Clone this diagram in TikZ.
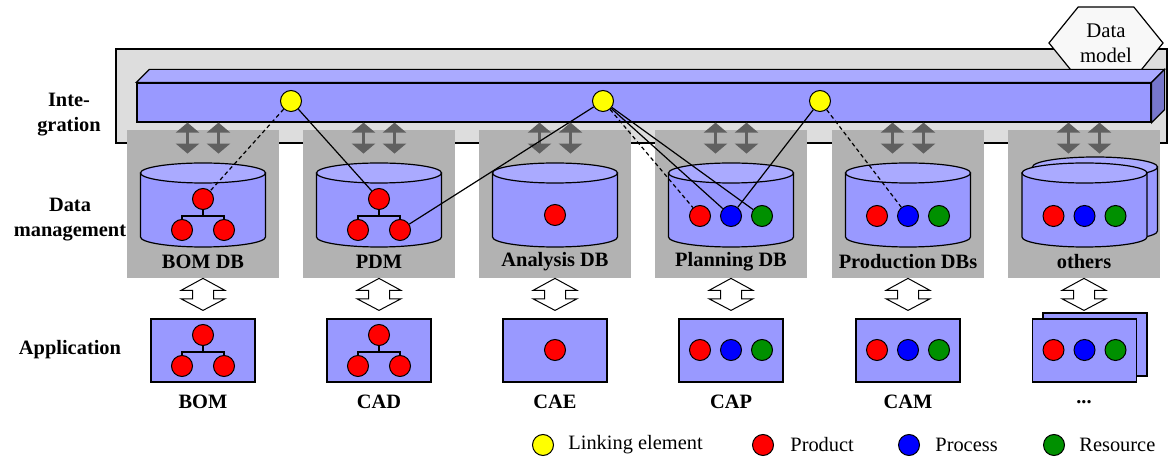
\documentclass[tikz,border=0pt]{standalone}
\usepackage{fontspec}
\setmainfont{Liberation Serif}
\usetikzlibrary{shapes.symbols,arrows.meta,positioning}

\definecolor{dbblue}{HTML}{9999FF}
\definecolor{dbtop}{HTML}{AAAAFF}
\definecolor{dbside}{HTML}{7777CC}
\definecolor{framegray}{HTML}{DDDDDD}
\definecolor{boxgray}{HTML}{B2B2B2}
\definecolor{arrowgray}{HTML}{606060}
\definecolor{hexfill}{HTML}{F8F8F8}
\definecolor{linkyellow}{HTML}{FFFF00}
\definecolor{prodred}{HTML}{FF0000}
\definecolor{procblue}{HTML}{0000FF}
\definecolor{resgreen}{HTML}{009000}

\tikzset{
  layerlabel/.style={font=\fontsize{10.2}{12.5}\selectfont\bfseries, align=center, inner sep=0pt},
  dbname/.style={font=\fontsize{10.2}{12.5}\selectfont\bfseries, inner sep=0pt},
  graybox/.style={fill=boxgray, minimum width=76pt, minimum height=74pt, inner sep=0pt},
  dbdrum/.pic={
    \draw[fill=dbblue, line width=0.6pt] (-31.25pt,16pt) -- (-31.25pt,-16pt)
      arc[start angle=180, end angle=360, x radius=31.25pt, y radius=5pt] -- (31.25pt,16pt) -- cycle;
    \draw[fill=dbtop, line width=0.6pt] (0,16pt) ellipse [x radius=31.25pt, y radius=5pt];},
  appbox/.style={draw, fill=dbblue, line width=0.6pt, minimum width=52pt, minimum height=31.5pt, inner sep=0pt},
  dot/.style={circle, draw, line width=0.5pt, minimum size=10.5pt, inner sep=0pt},
  link/.style={dot, fill=linkyellow},
  prod/.style={dot, fill=prodred},
  proc/.style={dot, fill=procblue},
  res/.style={dot, fill=resgreen},
  tree/.style={line width=0.6pt},
  wirelink/.style={line width=0.6pt},
  dashlink/.style={line width=0.6pt, dash pattern=on 2pt off 1.5pt},
  syncarrow/.style={arrowgray, line width=1.5pt, {Triangle[width=11.5pt,length=5pt]}-{Triangle[width=11.5pt,length=5pt]}},
  xarrow/.pic={\draw[fill=white, line width=0.5pt] (0,0) -- (11pt,-6pt) -- (5.25pt,-6pt) -- (5.25pt,-10.2pt)
    -- (11pt,-10.2pt) -- (0,-16pt) -- (-11pt,-10.2pt) -- (-5.25pt,-10.2pt) -- (-5.25pt,-6pt) -- (-11pt,-6pt) -- cycle;},
  legendtext/.style={font=\fontsize{10.2}{12}\selectfont, anchor=west, inner sep=0pt}
}

\begin{document}
\begin{tikzpicture}[x=0.5pt, y=-0.5pt]
\useasboundingbox (0,0) rectangle (1168,459);

% integration layer
\draw[fill=framegray, line width=0.7pt] (116,49) rectangle (1167,143);
\node[signal, signal to=east and west, signal pointer angle=102, draw, fill=hexfill, line width=0.6pt,
  minimum width=57pt, minimum height=36pt, inner sep=0pt, align=center,
  font=\fontsize{10.4}{12.5}\selectfont] (datamodel) at (1106,43) {Data\\model};
\node[draw, fill=dbblue, line width=0.6pt, minimum width=507pt, minimum height=19.5pt, inner sep=0pt] (bus) at (644,102.5) {};
\draw[fill=dbtop, line width=0.6pt] (bus.north west) -- ++(6.5pt,6.5pt) -- ([shift={(6.5pt,6.5pt)}]bus.north east) -- (bus.north east) -- cycle;
\draw[fill=dbside, line width=0.6pt] (bus.north east) -- ++(6.5pt,6.5pt) -- ([shift={(6.5pt,6.5pt)}]bus.south east) -- (bus.south east) -- cycle;

% layer names
\node[layerlabel] (lint) at (69,114.5) {Inte-\\gration};
\node[layerlabel] (ldata) at (70,219.5) {Data\\management};
\node[layerlabel] (lapp) at (70,350) {Application};

% data management boxes
\node[graybox] (bomdb) at (203,204) {};
\node[graybox] (pdmdb) at (379,204) {};
\node[graybox] (anadb) at (555,204) {};
\node[graybox] (plandb) at (731,204) {};
\node[graybox] (proddb) at (908,204) {};
\node[graybox] (othdb) at (1084,204) {};

\node[dbname] at (203,262) {BOM DB};
\node[dbname] at (379,262) {PDM};
\node[dbname] at (555,262) {Analysis DB};
\node[dbname] at (731,262) {Planning DB};
\node[dbname] at (908,262) {Production DBs};
\node[dbname] at (1084,262) {others};

% exchange with the bus
\draw[syncarrow] ([xshift=-7.75pt]bomdb.north |- bus.south) -- ++(0,-15.5pt);
\draw[syncarrow] ([xshift=7.75pt]bomdb.north |- bus.south) -- ++(0,-15.5pt);
\draw[syncarrow] ([xshift=-7.75pt]pdmdb.north |- bus.south) -- ++(0,-15.5pt);
\draw[syncarrow] ([xshift=7.75pt]pdmdb.north |- bus.south) -- ++(0,-15.5pt);
\draw[syncarrow] ([xshift=-7.75pt]anadb.north |- bus.south) -- ++(0,-15.5pt);
\draw[syncarrow] ([xshift=7.75pt]anadb.north |- bus.south) -- ++(0,-15.5pt);
\draw[syncarrow] ([xshift=-7.75pt]plandb.north |- bus.south) -- ++(0,-15.5pt);
\draw[syncarrow] ([xshift=7.75pt]plandb.north |- bus.south) -- ++(0,-15.5pt);
\draw[syncarrow] ([xshift=-7.75pt]proddb.north |- bus.south) -- ++(0,-15.5pt);
\draw[syncarrow] ([xshift=7.75pt]proddb.north |- bus.south) -- ++(0,-15.5pt);
\draw[syncarrow] ([xshift=-7.75pt]othdb.north |- bus.south) -- ++(0,-15.5pt);
\draw[syncarrow] ([xshift=7.75pt]othdb.north |- bus.south) -- ++(0,-15.5pt);

% databases
\pic at (203,205) {dbdrum};
\pic at (379,205) {dbdrum};
\pic at (555,205) {dbdrum};
\pic at (731,205) {dbdrum};
\pic at (908,205) {dbdrum};
\pic at (1095,199) {dbdrum};
\pic at (1084.5,205) {dbdrum};

\node[prod] (bomtop) at (203,199) {};
\node[prod] (bomleft) at (182,230) {};
\node[prod] (bomright) at (224,230) {};
\draw[tree] (bomtop.south) -- ++(0,-3pt) -| (bomleft.north);
\draw[tree] (bomtop.south) -- ++(0,-3pt) -| (bomright.north);

\node[prod] (pdmtop) at (379,199) {};
\node[prod] (pdmleft) at (358,230) {};
\node[prod] (pdmright) at (400,230) {};
\draw[tree] (pdmtop.south) -- ++(0,-3pt) -| (pdmleft.north);
\draw[tree] (pdmtop.south) -- ++(0,-3pt) -| (pdmright.north);

\node[prod] (anaprod) at (555,215) {};

\node[prod] (planprod) at (700,216) {};
\node[proc] (planproc) at (731,216) {};
\node[res] (planres) at (762,216) {};

\node[prod] (prodprod) at (877,216) {};
\node[proc] (prodproc) at (908,216) {};
\node[res] (prodres) at (939,216) {};

\node[prod] (othprod) at (1053.5,216) {};
\node[proc] (othproc) at (1084.5,216) {};
\node[res] (othres) at (1115.5,216) {};

% data management <-> application
\pic at (bomdb.south) {xarrow};
\pic at (pdmdb.south) {xarrow};
\pic at (anadb.south) {xarrow};
\pic at (plandb.south) {xarrow};
\pic at (proddb.south) {xarrow};
\pic at (othdb.south) {xarrow};

% applications
\node[appbox] (bomapp) at (203,350.5) {};
\node[appbox] (cadapp) at (379,350.5) {};
\node[appbox] (caeapp) at (555,350.5) {};
\node[appbox] (capapp) at (731,350.5) {};
\node[appbox] (camapp) at (908,350.5) {};
\node[appbox] (othappback) at (1095,344.5) {};
\node[appbox] (othapp) at (1084.5,350.5) {};

\node[prod] (bomatop) at (203,335) {};
\node[prod] (bomaleft) at (182,366) {};
\node[prod] (bomaright) at (224,366) {};
\draw[tree] (bomatop.south) -- ++(0,-3pt) -| (bomaleft.north);
\draw[tree] (bomatop.south) -- ++(0,-3pt) -| (bomaright.north);

\node[prod] (cadtop) at (379,335) {};
\node[prod] (cadleft) at (358,366) {};
\node[prod] (cadright) at (400,366) {};
\draw[tree] (cadtop.south) -- ++(0,-3pt) -| (cadleft.north);
\draw[tree] (cadtop.south) -- ++(0,-3pt) -| (cadright.north);

\node[prod] (caeprod) at (555,350) {};

\node[prod] (capprod) at (700,350) {};
\node[proc] (capproc) at (731,350) {};
\node[res] (capres) at (762,350) {};

\node[prod] (camprod) at (877,350) {};
\node[proc] (camproc) at (908,350) {};
\node[res] (camres) at (939,350) {};

\node[prod] (othaprod) at (1053.5,350) {};
\node[proc] (othaproc) at (1084.5,350) {};
\node[res] (otharess) at (1115.5,350) {};

\node[dbname] at (203,402) {BOM};
\node[dbname] at (379,402) {CAD};
\node[dbname] at (555,402) {CAE};
\node[dbname] at (731,402) {CAP};
\node[dbname] at (908,402) {CAM};
\node[dbname] at (1084,402) {...};

% linking elements
\node[link] (linka) at (291,101) {};
\node[link] (linkb) at (603,101) {};
\node[link] (linkc) at (820,101) {};

\draw[dashlink] (linka) -- (bomtop);
\draw[wirelink] (linka) -- (pdmtop);
\draw[wirelink] (linkb) -- (pdmright);
\draw[dashlink] (linkb) -- (planprod);
\draw[wirelink] (linkb) -- (planproc);
\draw[wirelink] (linkb) -- (planres);
\draw[wirelink] (linkc) -- (planproc);
\draw[dashlink] (linkc) -- (prodproc);

% legend
\node[link] (keylink) at (543,445) {};
\node[legendtext] at (568,445) {Linking element};
\node[prod] (keyprod) at (763,445) {};
\node[legendtext] at (790,445) {Product};
\node[proc] (keyproc) at (909,445) {};
\node[legendtext] at (935,445) {Process};
\node[res] (keyres) at (1054,445) {};
\node[legendtext] at (1079,445) {Resource};
\end{tikzpicture}
\end{document}
